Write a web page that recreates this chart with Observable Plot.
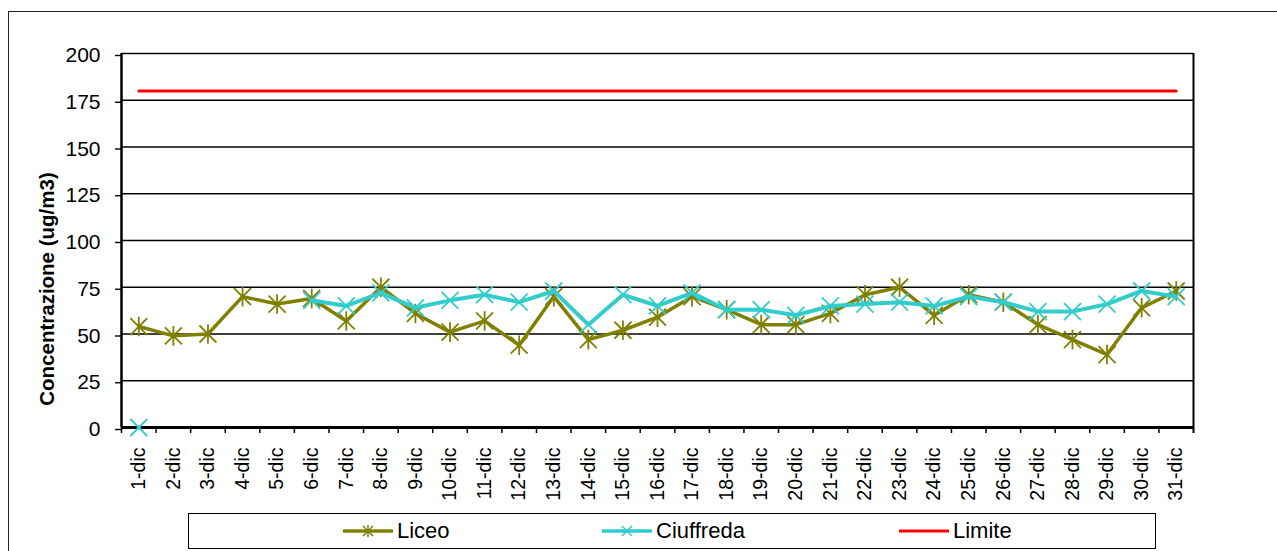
<!DOCTYPE html>
<html><head><meta charset="utf-8">
<script src="https://cdn.jsdelivr.net/npm/d3@7"></script>
<script src="https://cdn.jsdelivr.net/npm/@observablehq/plot@0.6"></script>
<style>
body{margin:0;background:#fff;font-family:"Liberation Sans",Arial,sans-serif;color:#000;}
#wrap{position:relative;width:1277px;height:551px;overflow:hidden;background:#fff;}
#frame{position:absolute;left:8px;top:11px;width:1400px;height:700px;border-left:1.5px solid #222;border-top:1.5px solid #222;}
#chart{position:absolute;left:0;top:0;}
#ylabel{position:absolute;left:47px;top:289px;transform:translate(-50%,-50%) rotate(-90deg);font-weight:bold;font-size:20.5px;white-space:nowrap;}
#legend{position:absolute;left:188px;top:513px;width:966px;height:34px;border:1.5px solid #000;background:#fff;}
.item{position:absolute;top:0;height:34px;display:flex;align-items:center;font-size:22px;}
.item svg{margin-right:4px;}
</style>
</head><body>
<div id="wrap">
  <div id="frame"></div>
  <div id="chart"></div>
  <div id="ylabel"></div>
  <div id="legend"></div>
</div>
<script>
// ---- data ----
const days = ["1-dic","2-dic","3-dic","4-dic","5-dic","6-dic","7-dic","8-dic","9-dic","10-dic",
  "11-dic","12-dic","13-dic","14-dic","15-dic","16-dic","17-dic","18-dic","19-dic","20-dic",
  "21-dic","22-dic","23-dic","24-dic","25-dic","26-dic","27-dic","28-dic","29-dic","30-dic","31-dic"];
const liceo = [54,49,50,70,66,69,57,75,61,51,57,44,70,47,52,59,70,63,55,55,61,71,75,60,71,67,55,47,39,64,73];
const ciuffreda = [0,null,null,null,null,68,65,72,64,68,71,67,73,55,71,65,72,63,63,60,65,66,67,65,70,67,62,62,66,73,70];
const limite = 180;
const yTicks = [0,25,50,75,100,125,150,175,200];
const seriesNames = ["Liceo","Ciuffreda","Limite"];
const seriesColors = ["#808000","#33CCCC","#FF0000"];
const yTitle = "Concentrazione (ug/m3)";

// ---- layout ----
const W = 1277, H = 505, mL = 121, mR = 84, mT = 53, mB = 78;
const bw = (W - mL - mR) / days.length;

const rows = days.map((d, i) => ({day: d, liceo: liceo[i], ciuffreda: ciuffreda[i], limite}));

const asterisk = {draw(ctx, size) {
  const r = Math.sqrt(size / Math.PI);
  ctx.moveTo(-r, -r); ctx.lineTo(r, r);
  ctx.moveTo(r, -r); ctx.lineTo(-r, r);
  ctx.moveTo(0, -r * 1.15); ctx.lineTo(0, r * 1.15);
}};
const cross = {draw(ctx, size) {
  const r = Math.sqrt(size / Math.PI);
  ctx.moveTo(-r, -r); ctx.lineTo(r, r);
  ctx.moveTo(r, -r); ctx.lineTo(-r, r);
}};

const chart = Plot.plot({
  width: W, height: H,
  marginLeft: mL, marginRight: mR, marginTop: mT, marginBottom: mB,
  style: {fontFamily: "'Liberation Sans', Arial, sans-serif", color: "#000", background: "transparent", overflow: "visible"},
  x: {type: "band", domain: days, padding: 0, round: false, label: null},
  y: {domain: [0, 200], label: null},
  marks: [
    Plot.gridY(yTicks, {stroke: "#000", strokeOpacity: 1, strokeWidth: 1.4}),
    Plot.axisY(yTicks, {tickSize: 6, tickPadding: 15, fontSize: 21, dy: 2, label: null, strokeWidth: 1.4}),
    Plot.axisX({tickSize: 0, tickPadding: 20, tickRotate: -90, fontSize: 19.5, label: null}),
    Plot.ruleX(days, {x: d => d, y1: 0, y2: 0, dx: -bw / 2, insetBottom: -6, stroke: "#000", strokeWidth: 1.5}),
    Plot.ruleX([days[days.length - 1]], {x: d => d, y1: 200, y2: 0, dx: bw / 2, insetBottom: -6, stroke: "#000", strokeWidth: 2}),
    Plot.ruleY([0], {stroke: "#000", strokeWidth: 3}),
    Plot.ruleX([days[0]], {x: d => d, y1: 200, y2: 0, dx: -bw / 2, stroke: "#000", strokeWidth: 2.5}),
    Plot.line(rows, {x: "day", y: "liceo", stroke: seriesColors[0], strokeWidth: 3.5}),
    Plot.dot(rows, {x: "day", y: "liceo", symbol: asterisk, r: 8.5, stroke: seriesColors[0], strokeWidth: 1.8, fill: "none"}),
    Plot.line(rows, {x: "day", y: "ciuffreda", stroke: seriesColors[1], strokeWidth: 4}),
    Plot.dot(rows.filter(d => d.ciuffreda != null), {x: "day", y: "ciuffreda", symbol: cross, r: 8.5, stroke: seriesColors[1], strokeWidth: 1.8, fill: "none"}),
    Plot.line(rows, {x: "day", y: "limite", stroke: seriesColors[2], strokeWidth: 3})
  ]
});
document.getElementById("chart").appendChild(chart);
document.getElementById("ylabel").textContent = yTitle;

// ---- legend ----
const legend = document.getElementById("legend");
const itemLeft = [154, 413, 710];
const symbols = ["asterisk", "cross", null];
seriesNames.forEach((name, i) => {
  const div = document.createElement("div");
  div.className = "item";
  div.style.left = itemLeft[i] + "px";
  const c = seriesColors[i];
  let mk = "";
  if (symbols[i] === "asterisk") mk = `<path d="M20,4L30,14M30,4L20,14M25,3L25,15" stroke="${c}" stroke-width="1.5" fill="none"/>`;
  if (symbols[i] === "cross") mk = `<path d="M20,4L30,14M30,4L20,14" stroke="${c}" stroke-width="1.5" fill="none"/>`;
  div.innerHTML = `<svg width="50" height="18"><line x1="0" x2="50" y1="9" y2="9" stroke="${c}" stroke-width="${i===2?3:3.5}"/>${mk}</svg><span>${name}</span>`;
  legend.appendChild(div);
});
</script>
</body></html>
